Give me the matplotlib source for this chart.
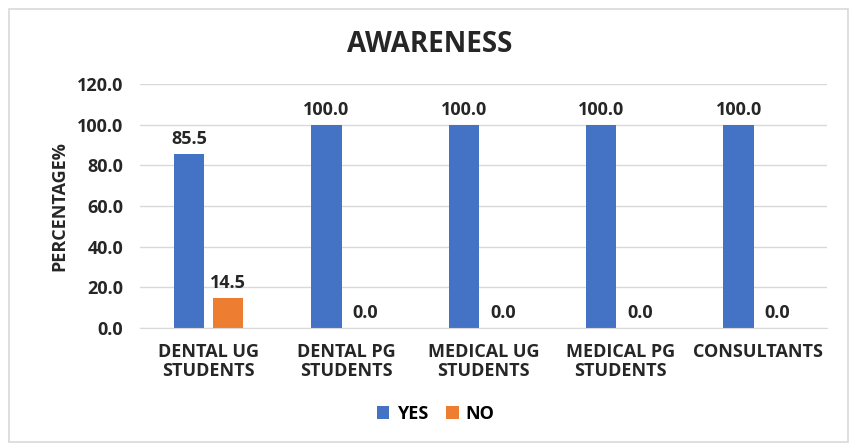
import numpy as np
import matplotlib.pyplot as plt
from matplotlib.patches import Rectangle

categories = ['DENTAL UG\nSTUDENTS', 'DENTAL PG\nSTUDENTS', 'MEDICAL UG\nSTUDENTS',
              'MEDICAL PG\nSTUDENTS', 'CONSULTANTS']
yes_vals = [85.5, 100.0, 100.0, 100.0, 100.0]
no_vals = [14.5, 0.0, 0.0, 0.0, 0.0]

plt.rcParams['font.family'] = ['Open Sans', 'DejaVu Sans']
plt.rcParams['font.weight'] = 'bold'

fig = plt.figure(figsize=(8.51, 4.45), dpi=100)
fig.patches.append(Rectangle((0.010, 0.007), 0.987, 0.972, transform=fig.transFigure,
                             fill=False, edgecolor='#d9d9d9', linewidth=1.2))

ax = fig.add_axes([0.1645, 0.263, 0.807, 0.548])
x = np.arange(len(categories))
w = 0.22
off = 0.142
b1 = ax.bar(x - off, yes_vals, w, color='#4472c4', label='YES')
b2 = ax.bar(x + off, no_vals, w, color='#ed7d31', label='NO')

for bars in (b1, b2):
    for b in bars:
        h = b.get_height()
        ax.text(b.get_x() + b.get_width() / 2, h + 3, '%.1f' % h, ha='center', va='bottom',
                fontsize=13, fontweight='bold', color='#262626')

ax.set_xlim(-0.5, len(categories) - 0.5)
ax.set_ylim(0, 120)
ax.set_yticks(np.arange(0, 121, 20))
ax.set_yticklabels(['%.1f' % v for v in np.arange(0, 121, 20)])
ax.set_xticks(x)
ax.set_xticklabels(categories, linespacing=1.05)
ax.tick_params(axis='both', length=0, labelsize=13, colors='#262626')
ax.tick_params(axis='x', pad=11)
ax.tick_params(axis='y', pad=12)
ax.grid(axis='y', color='#d9d9d9', linewidth=1)
ax.set_axisbelow(True)
for s in ['top', 'right', 'left']:
    ax.spines[s].set_visible(False)
ax.spines['bottom'].set_color('#d9d9d9')

ax.set_ylabel('PERCENTAGE%', fontsize=13, fontweight='bold', color='#262626', labelpad=6)
fig.text(0.505, 0.90, 'AWARENESS', ha='center', va='center', fontsize=20,
         fontweight='bold', color='#262626')

fig.legend(handles=[b1, b2], labels=['YES', 'NO'], loc='center', bbox_to_anchor=(0.512, 0.07),
           ncol=2, frameon=False, fontsize=13, handlelength=0.7, handleheight=0.7,
           columnspacing=1.0, handletextpad=0.4)

fig.savefig('out.png', dpi=100)
